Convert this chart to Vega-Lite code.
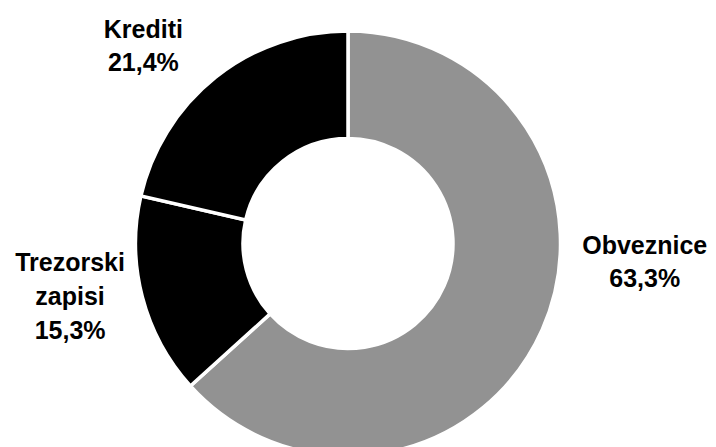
{
  "$schema": "https://vega.github.io/schema/vega-lite/v6.json",
  "width": 696,
  "height": 407,
  "autosize": "none",
  "padding": {"left": 0, "top": 40, "right": 20, "bottom": 0},
  "background": "white",
  "config": {"view": {"stroke": null}},
  "data": {
    "values": [
      {"category": "Obveznice", "share": 63.3},
      {"category": "Trezorski zapisi", "share": 15.3},
      {"category": "Krediti", "share": 21.4}
    ]
  },
  "transform": [
    {"window": [{"op": "row_number", "as": "i"}]},
    {"calculate": "replace(datum.category, ' ', '\\n') + '\\n' + replace(format(datum.share, '.1f'), '.', ',') + '%'", "as": "label"}
  ],
  "encoding": {
    "theta": {"field": "share", "type": "quantitative", "stack": true, "scale": {"zero": true}},
    "order": {"field": "i", "type": "quantitative"},
    "color": {
      "field": "category",
      "type": "nominal",
      "scale": {"domain": ["Obveznice", "Trezorski zapisi", "Krediti"], "range": ["#929292", "#000000", "#000000"]},
      "legend": null
    }
  },
  "layer": [
    {
      "mark": {"type": "arc", "innerRadius": 105, "outerRadius": 212.5, "stroke": "white", "strokeWidth": 3.5}
    },
    {
      "mark": {"type": "text", "radius": 282, "dx": -29, "dy": 7, "font": "Liberation Sans", "fontWeight": "bold", "fontSize": 25, "lineHeight": 33, "lineBreak": "\n", "align": "center", "baseline": "middle"},
      "encoding": {
        "text": {"condition": {"test": "datum.category === 'Krediti'", "field": "label", "type": "nominal"}, "value": ""},
        "color": {"value": "black"}
      }
    },
    {
      "mark": {"type": "text", "radius": 282, "dx": 39, "dy": -112, "font": "Liberation Sans", "fontWeight": "bold", "fontSize": 25, "lineHeight": 33, "lineBreak": "\n", "align": "center", "baseline": "middle"},
      "encoding": {
        "text": {"condition": {"test": "datum.category === 'Obveznice'", "field": "label", "type": "nominal"}, "value": ""},
        "color": {"value": "black"}
      }
    },
    {
      "mark": {"type": "text", "radius": 282, "dx": -5, "dy": -51, "font": "Liberation Sans", "fontWeight": "bold", "fontSize": 25, "lineHeight": 34, "lineBreak": "\n", "align": "center", "baseline": "middle"},
      "encoding": {
        "text": {"condition": {"test": "datum.category === 'Trezorski zapisi'", "field": "label", "type": "nominal"}, "value": ""},
        "color": {"value": "black"}
      }
    }
  ]
}
